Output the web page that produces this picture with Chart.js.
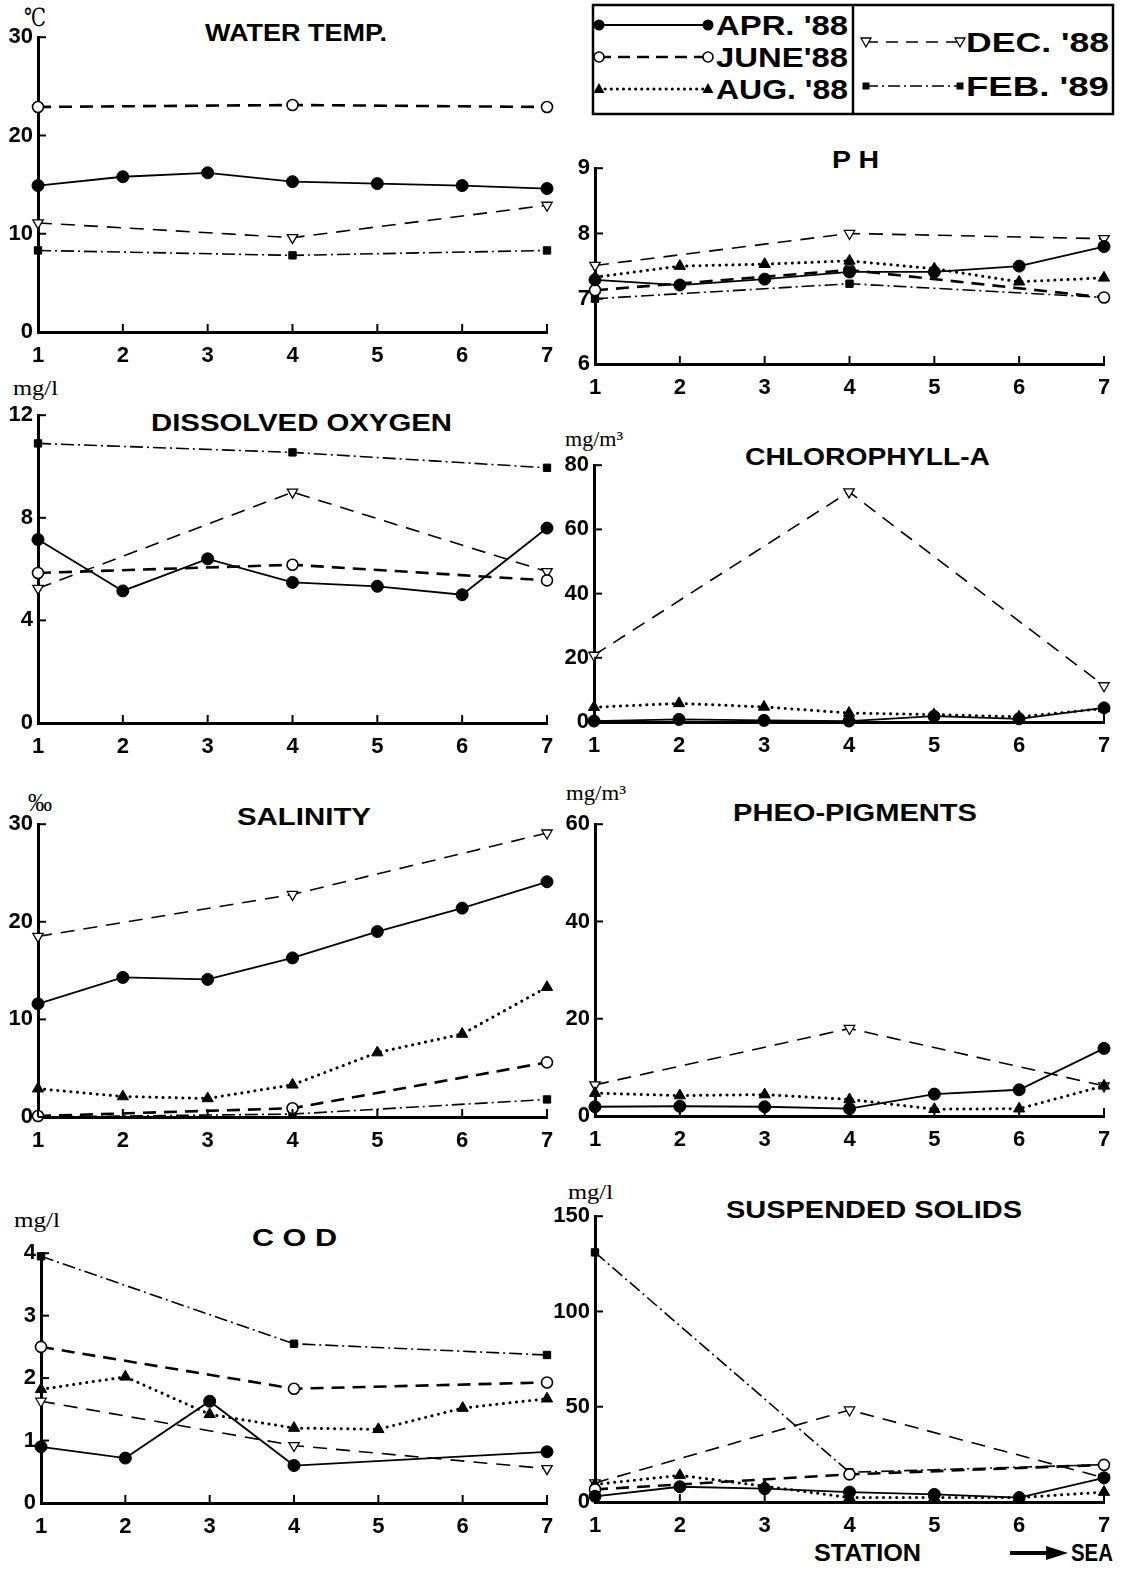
<!DOCTYPE html>
<html><head><meta charset="utf-8">
<script src="https://cdn.jsdelivr.net/npm/chart.js@4/dist/chart.umd.min.js"></script>
<style>
html,body{margin:0;padding:0;background:#fff;}
body{width:1126px;height:1570px;position:relative;overflow:hidden;font-family:'Liberation Sans',Arial,sans-serif;}
canvas.cv{position:absolute;}
#ov{position:absolute;left:0;top:0;}
</style></head><body>
<svg id="ov" width="1126" height="1570" xmlns="http://www.w3.org/2000/svg"></svg>
<script>
// ---------- data ----------
const stations = ['1','2','3','4','5','6','7'];

// Water temperature (°C)
const tempApr  = [14.9, 15.8, 16.2, 15.3, 15.1, 14.9, 14.6];
const tempJune = [22.9, null, null, 23.1, null, null, 22.9];
const tempDec  = [11.1, null, null, 9.6, null, null, 12.9];
const tempFeb  = [8.3, null, null, 7.8, null, null, 8.3];

// pH
const phApr  = [7.29, 7.21, 7.30, 7.41, 7.41, 7.50, 7.80];
const phJune = [7.13, null, null, 7.44, null, null, 7.02];
const phAug  = [7.33, 7.50, 7.53, 7.58, 7.46, 7.26, 7.32];
const phDec  = [7.51, null, null, 8.00, null, null, 7.92];
const phFeb  = [7.00, null, null, 7.23, null, null, 7.02];

// Dissolved oxygen (mg/l)
const doApr  = [7.15, 5.15, 6.4, 5.48, 5.33, 5.0, 7.6];
const doJune = [5.85, null, null, 6.17, null, null, 5.56];
const doDec  = [5.25, null, null, 9.0, null, null, 5.9];
const doFeb  = [10.9, null, null, 10.55, null, null, 9.95];

// Chlorophyll-a (mg/m3)
const chlApr = [0.3, 0.8, 0.5, 0.3, 1.8, 1.0, 4.4];
const chlAug = [4.6, 5.8, 4.7, 2.8, 2.3, 1.6, 4.2];
const chlDec = [20.8, null, null, 71.7, null, null, 11.3];

// Salinity (permil)
const salApr  = [11.6, 14.3, 14.1, 16.3, 19.0, 21.4, 24.1];
const salJune = [0.1, null, null, 0.9, null, null, 5.6];
const salAug  = [2.9, 2.1, 1.9, 3.3, 6.6, 8.5, 13.3];
const salDec  = [18.5, null, null, 22.8, null, null, 29.1];
const salFeb  = [0.0, null, null, 0.3, null, null, 1.8];

// Pheo-pigments (mg/m3)
const pheoApr = [1.9, 2.0, 1.9, 1.5, 4.5, 5.4, 13.9];
const pheoAug = [4.7, 4.2, 4.4, 3.4, 1.4, 1.5, 6.2];
const pheoDec = [6.4, null, null, 18.0, null, null, 6.2];

// COD (mg/l)
const codApr  = [0.9, 0.72, 1.63, 0.6, null, null, 0.82];
const codJune = [2.5, null, null, 1.83, null, null, 1.93];
const codAug  = [1.82, 2.02, 1.42, 1.2, 1.18, 1.52, 1.67];
const codDec  = [1.63, null, null, 0.92, null, null, 0.55];
const codFeb  = [3.95, null, null, 2.55, null, null, 2.37];

// Suspended solids (mg/l)
const ssApr  = [3, 8, 7, 5.2, 4, 2.3, 12.7];
const ssJune = [6.6, null, null, 14.5, null, null, 19.5];
const ssAug  = [9.2, 14, 8.3, 2.3, 2.3, 2.3, 5.2];
const ssDec  = [10, null, null, 48.3, null, null, 12.7];
const ssFeb  = [131, null, null, 15.6, null, null, 19.6];

const seriesLabels = {apr:"APR. '88", june:"JUNE'88", aug:"AUG. '88", dec:"DEC. '88", feb:"FEB. '89"};

// ---------- styles ----------
const FONT = "'Liberation Sans', Arial, Helvetica, sans-serif";
const SERIF = "'Liberation Serif', 'DejaVu Serif', serif";
const style = {
  apr:  {borderWidth:1.8, borderDash:[], pointStyle:'circle', pointRadius:6, pointBackgroundColor:'#000', pointBorderWidth:1},
  june: {borderWidth:2.6, borderDash:[13,8], pointStyle:'circle', pointRadius:5.5, pointBackgroundColor:'#fff', pointBorderWidth:1.6},
  aug:  {borderWidth:3, borderDash:[0.1,6.5], borderCapStyle:'round', pointStyle:'triangle', pointRadius:6.5, pointBackgroundColor:'#000', pointBorderWidth:1},
  dec:  {borderWidth:1.6, borderDash:[14,9], pointStyle:'triangle', pointRotation:180, pointRadius:6, pointBackgroundColor:'#fff', pointBorderWidth:1.3},
  feb:  {borderWidth:1.6, borderDash:[13,4,2,4], pointStyle:'rect', pointRadius:5.2, pointBackgroundColor:'#000', pointBorderWidth:1}
};

const panels = [
  {L:38,  R:547,  T:35,   B:332,  min:0, max:30,  step:10, series:{apr:tempApr, june:tempJune, dec:tempDec, feb:tempFeb}},
  {L:595, R:1104, T:166,  B:364,  min:6, max:9,   step:1,  series:{apr:phApr, june:phJune, aug:phAug, dec:phDec, feb:phFeb}},
  {L:38,  R:547,  T:413,  B:723,  min:0, max:12,  step:4,  series:{apr:doApr, june:doJune, dec:doDec, feb:doFeb}},
  {L:594, R:1104, T:463,  B:722,  min:0, max:80,  step:20, series:{apr:chlApr, aug:chlAug, dec:chlDec}},
  {L:38,  R:547,  T:822,  B:1117, min:0, max:30,  step:10, series:{apr:salApr, june:salJune, aug:salAug, dec:salDec, feb:salFeb}},
  {L:595, R:1104, T:822,  B:1116, min:0, max:60,  step:20, series:{apr:pheoApr, aug:pheoAug, dec:pheoDec}},
  {L:41,  R:547,  T:1251, B:1503, min:0, max:4,   step:1,  series:{apr:codApr, june:codJune, aug:codAug, dec:codDec, feb:codFeb}},
  {L:595, R:1104, T:1214, B:1502, min:0, max:150, step:50, series:{apr:ssApr, june:ssJune, aug:ssAug, dec:ssDec, feb:ssFeb}}
];

const inwardTicks = {
  id:'inwardTicks',
  afterDatasetsDraw(chart){
    const ctx = chart.ctx, a = chart.chartArea, xs = chart.scales.x, ys = chart.scales.y;
    ctx.save(); ctx.strokeStyle = '#000'; ctx.lineWidth = 2; ctx.setLineDash([]);
    ys.ticks.forEach((t,i)=>{ const y = ys.getPixelForTick(i); ctx.beginPath(); ctx.moveTo(a.left, y); ctx.lineTo(a.left+8, y); ctx.stroke(); });
    xs.ticks.forEach((t,i)=>{ const x = xs.getPixelForTick(i); ctx.beginPath(); ctx.moveTo(x, a.bottom); ctx.lineTo(x, a.bottom-8); ctx.stroke(); });
    ctx.restore();
  }
};

const YW = 46, XH = 46, PT = 16, PR = 18;
panels.forEach(p=>{
  const c = document.createElement('canvas');
  c.className = 'cv';
  const w = p.R - p.L + YW + PR, h = p.B - p.T + PT + XH;
  c.width = w; c.height = h;
  c.style.width = w+'px'; c.style.height = h+'px';
  c.style.left = (p.L - YW)+'px'; c.style.top = (p.T - PT)+'px';
  document.body.appendChild(c);
  const datasets = Object.keys(p.series).map(k=>Object.assign({
    label: seriesLabels[k], data: p.series[k], borderColor:'#000', pointBorderColor:'#000',
    spanGaps:true, tension:0, fill:false, clip:false
  }, style[k]));
  new Chart(c, {
    type:'line',
    data:{labels:stations, datasets},
    options:{
      responsive:false, animation:false, devicePixelRatio:1,
      layout:{padding:{left:0, right:PR, top:PT, bottom:0}},
      plugins:{legend:{display:false}, tooltip:{enabled:false}, title:{display:false}},
      scales:{
        x:{type:'category', offset:false,
           grid:{display:false, drawTicks:false},
           border:{display:true, color:'#000', width:3},
           ticks:{color:'#000', font:{family:FONT, size:22, weight:'bold'}, padding:11, maxRotation:0, autoSkip:false},
           afterFit:(s)=>{ s.height = XH; }},
        y:{type:'linear', min:p.min, max:p.max,
           grid:{display:false, drawTicks:false},
           border:{display:true, color:'#000', width:3},
           ticks:{stepSize:p.step, color:'#000', font:{family:FONT, size:22, weight:'bold'}, padding:5},
           afterFit:(s)=>{ s.width = YW; }}
      }
    },
    plugins:[inwardTicks]
  });
});

// ---------- overlay text (titles, units, legend) ----------
const NS = 'http://www.w3.org/2000/svg';
const ov = document.getElementById('ov');
function el(tag, attrs, text){
  const e = document.createElementNS(NS, tag);
  for (const k in attrs) e.setAttribute(k, attrs[k]);
  if (text !== undefined) e.textContent = text;
  ov.appendChild(e); return e;
}
function txt(s, x, y, len, size, fam, weight){
  const a = {x:x, y:y, 'font-family':fam||FONT, 'font-size':size, 'font-weight':weight||'bold', fill:'#000'};
  if (len) { a.textLength = len; a.lengthAdjust = 'spacingAndGlyphs'; }
  return el('text', a, s);
}
// titles
txt('WATER TEMP.', 205, 41, 182, 24);
txt('P H', 832, 168, 47, 24);
txt('DISSOLVED  OXYGEN', 151, 431, 301, 24);
txt('CHLOROPHYLL-A', 745, 465, 245, 24);
txt('SALINITY', 237, 825, 134, 24);
txt('PHEO-PIGMENTS', 733, 821, 244, 24);
txt('C O D', 252, 1246, 85, 24);
txt('SUSPENDED  SOLIDS', 726, 1218, 296, 24);
// units
txt('℃', 24, 26, 22, 25, SERIF, 'normal');
txt('mg/l', 13, 395, 45, 22, SERIF, 'normal');
txt('mg/m³', 565, 446, 58, 21, SERIF, 'normal');
txt('‰', 28, 811, 24, 26, SERIF, 'normal');
txt('mg/m³', 566, 800, 60, 21, SERIF, 'normal');
txt('mg/l', 14, 1227, 46, 22, SERIF, 'normal');
txt('mg/l', 568, 1199, 45, 22, SERIF, 'normal');
// station footer
txt('STATION', 814, 1561, 107, 23);
el('line', {x1:1010, y1:1553, x2:1050, y2:1553, stroke:'#000', 'stroke-width':4});
el('polygon', {points:'1046,1546 1068,1553 1046,1560', fill:'#000'});
txt('SEA', 1071, 1561, 42, 23);

// legend
el('rect', {x:593, y:5, width:520, height:109, fill:'none', stroke:'#000', 'stroke-width':2.5});
el('line', {x1:853, y1:5, x2:853, y2:114, stroke:'#000', 'stroke-width':2.5});
function marker(kind, x, y){
  if (kind==='apr') el('circle', {cx:x, cy:y, r:5.5, fill:'#000'});
  if (kind==='june') el('circle', {cx:x, cy:y, r:5, fill:'#fff', stroke:'#000', 'stroke-width':1.6});
  if (kind==='aug') el('polygon', {points:`${x},${y-6} ${x+5.5},${y+4} ${x-5.5},${y+4}`, fill:'#000'});
  if (kind==='dec') el('polygon', {points:`${x-5},${y-4} ${x+5},${y-4} ${x},${y+5}`, fill:'#fff', stroke:'#000', 'stroke-width':1.3});
  if (kind==='feb') el('rect', {x:x-3.5, y:y-3.5, width:7, height:7, fill:'#000'});
}
const legRows = [
  {k:'apr',  x1:599, x2:708, y:25, dash:'',        w:1.8, tx:716, tl:132},
  {k:'june', x1:599, x2:708, y:57, dash:'12 7',    w:2.6, tx:716, tl:132},
  {k:'aug',  x1:599, x2:708, y:89, dash:'0.1 6',   w:3,   tx:716, tl:132},
  {k:'dec',  x1:866, x2:960, y:42, dash:'12 8',    w:1.6, tx:966, tl:143},
  {k:'feb',  x1:866, x2:960, y:86, dash:'12 4 2 4',w:1.6, tx:966, tl:143}
];
legRows.forEach(r=>{
  const a = {x1:r.x1, y1:r.y, x2:r.x2, y2:r.y, stroke:'#000', 'stroke-width':r.w};
  if (r.dash) a['stroke-dasharray'] = r.dash;
  if (r.k==='aug') a['stroke-linecap'] = 'round';
  el('line', a);
  marker(r.k, r.x1, r.y); marker(r.k, r.x2, r.y);
  txt(seriesLabels[r.k], r.tx, r.y+10, r.tl, 28);
});
</script>
</body></html>
